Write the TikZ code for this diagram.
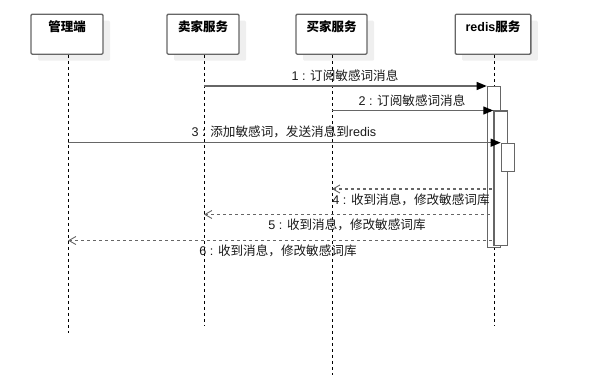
\documentclass[tikz,border=0pt]{standalone}
\usepackage{fontspec}
\setmainfont{Liberation Sans}
\newfontfamily\cjk{Noto Sans CJK SC}
\usetikzlibrary{arrows.meta,shadows}
\definecolor{edge}{HTML}{666666}
\definecolor{shade}{HTML}{EFEFEF}
\tikzset{
  hdr/.style={draw=edge, line width=1.3pt, fill=white, rounded corners=1.2pt,
    minimum height=40pt, inner sep=0pt,
    general shadow={fill=shade, draw=none, shadow xshift=7pt, shadow yshift=-6.5pt}},
  hdrtext/.style={anchor=north, font=\fontsize{12.5}{14}\selectfont\bfseries, inner sep=0pt},
  lifeline/.style={draw=black, line width=0.8pt, dash pattern=on 3pt off 3pt},
  act/.style={draw=edge, line width=1.2pt, fill=white, minimum width=13.3pt, inner sep=0pt},
  msg/.style={draw=edge, line width=1.1pt, -{Triangle[length=10pt,width=8pt,fill=black,color=black]}},
  ret/.style={draw=edge, line width=1.1pt, dash pattern=on 3pt off 3pt,
    {Straight Barb[length=7pt,width=8pt,color=edge,line width=0.9pt]}-},
  lbl/.style={font=\fontsize{12.6}{14}\selectfont, inner sep=0pt, text=black!90}
}
\begin{document}
\begin{tikzpicture}[x=1pt,y=-1pt]
\useasboundingbox (0,0) rectangle (609,382);
% headers
\node[hdr, minimum width=72pt] (h1) at (67,34.2) {};
\node[hdr, minimum width=72pt] (h2) at (203,34.2) {};
\node[hdr, minimum width=71pt] (h3) at (331.5,34.2) {};
\node[hdr, minimum width=75.7pt] (h4) at (493,34.2) {};
\node[hdrtext] (t1) at (67,20.5) {\cjk\bfseries 管理端};
\node[hdrtext] (t2) at (203,20.5) {\cjk\bfseries 卖家服务};
\node[hdrtext] (t3) at (331.5,20.5) {\cjk\bfseries 买家服务};
\node[hdrtext] (t4) at (493,20.5) {redis{\cjk\bfseries 服务}};
% lifeline ends
\coordinate (e1) at (68,333);
\coordinate (e2) at (204,325);
\coordinate (e3) at (332,375);
\coordinate (e4) at (494,325);
\draw[lifeline] (h1.south -| e1) -- (e1);
\draw[lifeline] (h2.south -| e2) -- (e2);
\draw[lifeline] (h3.south -| e3) -- (e3);
\draw[lifeline] (h4.south -| e4) -- (e4);
% activations
\node[act, minimum height=160.7pt, anchor=north west] (a1) at (486.7,86) {};
\node[act, minimum height=134.5pt, anchor=north west] (a2) at (493.3,110.5) {};
\node[act, minimum height=28pt, anchor=north west] (a3) at (500.7,142.7) {};
% message start/end points
\coordinate (s1) at (204,86);
\coordinate (s2) at (332,110.5);
\coordinate (s3) at (68,142.7);
\coordinate (r4) at (493.3,189);
\coordinate (r5) at (493.3,214.5);
\coordinate (r6) at (493.3,240.5);
\coordinate (d4) at (332,189);
\coordinate (d5) at (204,214.5);
\coordinate (d6) at (68,240.5);
\draw[msg] (s1) -- (a1.north west);
\draw[msg] (s2) -- (a2.north west);
\draw[msg] (s3) -- (a3.north west);
\draw[ret] (d4) -- (r4);
\draw[ret] (d5) -- (r5);
\draw[ret] (d6) -- (r6);
% labels
\node[lbl] (l1) at (345,76) {1 : {\cjk 订阅敏感词消息}};
\node[lbl] (l2) at (412,101) {2 : {\cjk 订阅敏感词消息}};
\node[lbl] (l3) at (284,132) {3 : {\cjk 添加敏感词，发送消息到}redis};
\node[lbl] (l4) at (411,200) {4 : {\cjk 收到消息，修改敏感词库}};
\node[lbl] (l5) at (347,224.5) {5 : {\cjk 收到消息，修改敏感词库}};
\node[lbl] (l6) at (278,250.5) {6 : {\cjk 收到消息，修改敏感词库}};
\end{tikzpicture}
\end{document}
